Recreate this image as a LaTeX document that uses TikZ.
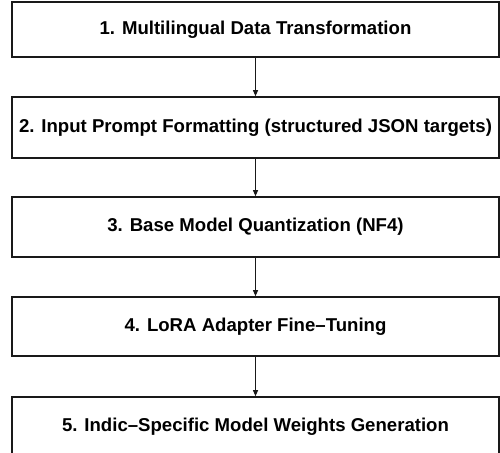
\documentclass[tikz,border=0pt]{standalone}
\usepackage{fontspec}
\setmainfont{Liberation Sans}
\usetikzlibrary{arrows.meta}
\tikzset{
  stagebox/.style={draw=black!90, line width=1.6pt, fill=white, rectangle,
    minimum width=487pt, minimum height=#1, inner sep=0pt,
    font=\bfseries\fontsize{18.6}{21}\selectfont},
  stagebox/.default=58pt,
  flowarrow/.style={draw=black!90, line width=0.9pt, -{Triangle[length=6pt,width=5pt]}}
}
\begin{document}
\begin{tikzpicture}[x=1pt,y=1pt]
\useasboundingbox (0,0) rectangle (500,-452);
\begin{scope}
\clip (0,0) rectangle (500,-452);
\node[stagebox=55pt] (b1) at (255.5,-29.5) {1. Multilingual Data Transformation};
\node[stagebox=61pt] (b2) at (255.5,-127.5) {2. Input Prompt Formatting (structured JSON targets)};
\node[stagebox=60pt] (b3) at (255.5,-227) {3. Base Model Quantization (NF4)};
\node[stagebox=59pt] (b4) at (255.5,-326.5) {4. LoRA Adapter Fine–Tuning};
\node[stagebox=60pt] (b5) at (255.5,-427) {5. Indic–Specific Model Weights Generation};
\end{scope}
\draw[flowarrow] (b1.south) -- (b2.north);
\draw[flowarrow] (b2.south) -- (b3.north);
\draw[flowarrow] (b3.south) -- (b4.north);
\draw[flowarrow] (b4.south) -- (b5.north);
\end{tikzpicture}
\end{document}
